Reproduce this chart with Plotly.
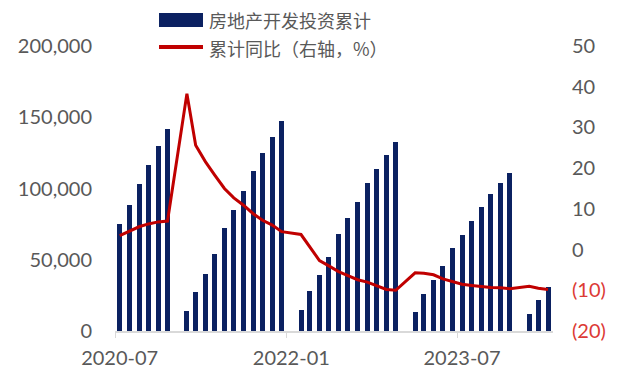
import plotly.graph_objects as go

# ---- data ----
months = ["2020-07", "2020-08", "2020-09", "2020-10", "2020-11", "2020-12",
          "2021-02", "2021-03", "2021-04", "2021-05", "2021-06", "2021-07", "2021-08", "2021-09", "2021-10", "2021-11", "2021-12",
          "2022-02", "2022-03", "2022-04", "2022-05", "2022-06", "2022-07", "2022-08", "2022-09", "2022-10", "2022-11", "2022-12",
          "2023-02", "2023-03", "2023-04", "2023-05", "2023-06", "2023-07", "2023-08", "2023-09", "2023-10", "2023-11", "2023-12",
          "2024-02", "2024-03", "2024-04"]

invest = [75325, 88454, 103484, 116556, 129492, 141443,
          13986, 27576, 40240, 54318, 72179, 84895, 98060, 112559, 124934, 136275, 147602,
          14499, 27765, 39154, 52134, 68314, 79462, 90809, 103559, 113945, 123863, 132895,
          13669, 25974, 35514, 45701, 58550, 67717, 76900, 87269, 95922, 104045, 110913,
          11842, 22082, 30928]

yoy = [3.4, 4.6, 5.6, 6.3, 6.8, 7.0,
       38.3, 25.6, 21.6, 18.3, 15.0, 12.7, 10.9, 8.8, 7.2, 6.0, 4.4,
       3.7, 0.7, -2.7, -4.0, -5.4, -6.4, -7.4, -8.0, -8.8, -9.8, -10.0,
       -5.7, -5.8, -6.2, -7.2, -7.9, -8.5, -8.8, -9.1, -9.3, -9.4, -9.6,
       -9.0, -9.5, -9.8]

x_tick_vals = ["2020-07-01", "2022-01-01", "2023-07-01"]
x_tick_text = ["2020-07", "2022-01", "2023-07"]
x_boundaries = ["2020-06-16", "2021-12-16", "2023-06-16"]
left_ticks = [0, 50000, 100000, 150000, 200000]
right_ticks = [-20, -10, 0, 10, 20, 30, 40, 50]

series_names = ["房地产开发投资累计", "累计同比（右轴，%）"]

NAVY = "#0B2161"
RED = "#C00000"
GREY = "#595959"
NEG = "#DC3A35"

num_font = "Lato"
cjk_font = "Noto Sans CJK SC"


def fmt_right(v):
    if v < 0:
        return f'<span style="color:{NEG}">({abs(v)})</span>'
    return str(v)


fig = go.Figure()
fig.add_trace(go.Bar(
    x=months, y=invest, name=series_names[0],
    marker=dict(color=NAVY, line=dict(width=0)),
    width=16 * 86400000, showlegend=False,
))
fig.add_trace(go.Scatter(
    x=months, y=yoy, name=series_names[1], yaxis="y2", mode="lines",
    line=dict(color=RED, width=3), showlegend=False,
))

# manual legend (swatches + text)
fig.add_shape(type="rect", xref="paper", yref="paper",
              x0=0.1005, x1=0.2009, y0=1.0667, y1=1.1158,
              fillcolor=NAVY, line=dict(width=0))
fig.add_shape(type="line", xref="paper", yref="paper",
              x0=0.1005, x1=0.2009, y0=0.9965, y1=0.9965,
              line=dict(color=RED, width=4))
fig.add_annotation(text=series_names[0], xref="paper", yref="paper",
                   x=0.2100, y=1.0912, xanchor="left", yanchor="middle",
                   showarrow=False, font=dict(family=cjk_font, size=18, color=GREY))
fig.add_annotation(text=series_names[1], xref="paper", yref="paper",
                   x=0.2100, y=0.9930, xanchor="left", yanchor="middle",
                   showarrow=False, font=dict(family=cjk_font, size=18, color=GREY))

fig.update_layout(
    width=625, height=372,
    margin=dict(l=115, r=72, t=46, b=41),
    paper_bgcolor="white", plot_bgcolor="white",
    bargap=0,
    font=dict(family=num_font, size=20, color=GREY),
    xaxis=dict(
        type="date", automargin=False,
        range=["2020-06-16", "2024-04-17"],
        tickvals=x_tick_vals, ticktext=x_tick_text,
        ticks="", showgrid=False, zeroline=False,
        showline=True, linecolor="#D9D9D9", linewidth=1.5,
        ticklabelstandoff=8,
        minor=dict(tickvals=x_boundaries, ticks="outside", ticklen=5,
                   tickcolor="#D9D9D9", tickwidth=1, showgrid=False),
        tickfont=dict(family=num_font, size=20, color=GREY),
    ),
    yaxis=dict(
        automargin=False,
        range=[0, 200000], tickvals=left_ticks, tickformat=",",
        showgrid=False, zeroline=False, showline=False, ticks="",
        ticklabelstandoff=22,
        tickfont=dict(family=num_font, size=20, color=GREY),
    ),
    yaxis2=dict(
        automargin=False,
        overlaying="y", side="right",
        range=[-20, 50], tickvals=right_ticks,
        ticktext=[fmt_right(v) for v in right_ticks],
        showgrid=False, zeroline=False, showline=False, ticks="",
        ticklabelstandoff=18,
        tickfont=dict(family=num_font, size=20, color=GREY),
    ),
)

fig.write_html("out.html")
